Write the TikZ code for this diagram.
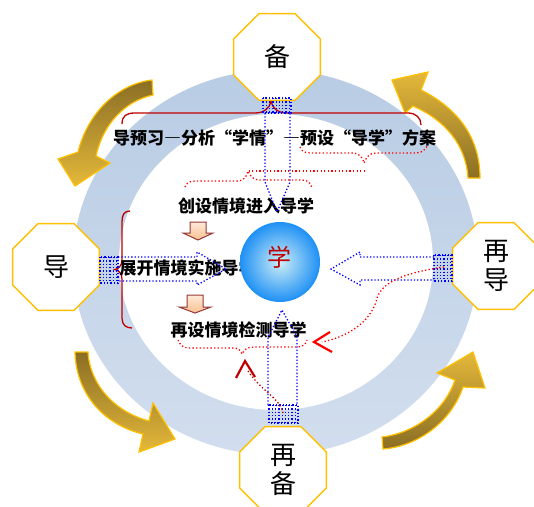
\documentclass[tikz,border=0pt]{standalone}
\usepackage{fontspec}
\newfontfamily\cjk{Noto Sans CJK SC}
\newfontfamily\cjkfw{Noto Sans CJK SC}[CharacterWidth=Full]
\usetikzlibrary{shapes.geometric}
\definecolor{ringA}{RGB}{184,204,228}
\definecolor{ringB}{RGB}{210,222,238}
\definecolor{goldD}{RGB}{138,110,36}
\definecolor{goldL}{RGB}{228,184,58}
\definecolor{goldE}{RGB}{255,192,0}
\definecolor{darkred}{RGB}{192,0,0}
\definecolor{ballin}{RGB}{205,238,246}
\definecolor{ballout}{RGB}{30,144,245}
\definecolor{peach}{RGB}{250,192,144}
\definecolor{peachL}{RGB}{253,233,217}
\definecolor{arrbrown}{RGB}{149,55,53}
\newcommand\myhatch[4]{%
  \draw[bluedot] (#1,#2) rectangle (#3,#4);
  \begin{scope}
    \clip (#1,#2) rectangle (#3,#4);
    \foreach \xx in {0,3.3,...,33} \draw[bluedot] ({#1+\xx},#2) -- ({#1+\xx},#4);
  \end{scope}}
\begin{document}
\begin{tikzpicture}[x=1pt,y=-1pt,
  octa/.style={regular polygon, regular polygon sides=8, minimum size=94pt, inner sep=0pt,
    draw=goldE, line width=1.5pt, fill=white, font=\cjk\fontsize{26}{28.5}\selectfont, align=center},
  bluedot/.style={draw=blue, line width=1.3pt, dash pattern=on 1.3pt off 2pt},
  reddot/.style={draw=red, line width=1.3pt, dash pattern=on 1.3pt off 2.3pt},
  txt/.style={font=\cjk\bfseries\fontsize{17}{18}\selectfont, inner sep=0pt},
  goldarrow/.style={draw=goldE, line width=1.2pt},
  brace/.style={draw=darkred, line width=1.3pt},
  blockarrow/.style={draw=arrbrown, line width=1pt, top color=peachL, bottom color=peach},
]
\useasboundingbox (0,0) rectangle (534,506);
% ring
\shade[top color=ringA, bottom color=ringB] (275.5,262.5) ellipse [x radius=202.5, y radius=192.5];
\fill[white] (276,262) ellipse [x radius=157, y radius=148];
% golden curved arrows
\shadedraw[goldarrow, top color=goldD, bottom color=goldL]
  (152,80) .. controls (118,84) and (88,112) .. (78,152) -- (58,159) -- (75,186) -- (110,163) -- (96,156)
  .. controls (103,124) and (125,101) .. (153,95) -- cycle;
\shadedraw[goldarrow, bottom color=goldD, top color=goldL]
  (480,178) .. controls (480,135) and (455,107) .. (421,90) -- (428,72) -- (392,80) -- (405,113) -- (413,106)
  .. controls (445,120) and (466,145) .. (468,178) -- cycle;
\shadedraw[goldarrow, top color=goldD, bottom color=goldL]
  (75,352) .. controls (76,395) and (105,425) .. (143,434) -- (139,452) -- (175,439) -- (153,403) -- (149,421)
  .. controls (115,412) and (90,385) .. (88,352) -- cycle;
\shadedraw[goldarrow, bottom color=goldD, top color=goldL]
  (383,449) .. controls (420,446) and (452,420) .. (463,387) -- (485,388) -- (473,352) -- (437,373) -- (455,380)
  .. controls (445,410) and (415,433) .. (382,437) -- cycle;
% dark red braces
\draw[brace] (122,124) .. controls (122,116) and (126,113) .. (135,113) -- (255,113)
  .. controls (264,113) and (270,108) .. (271,101) .. controls (272,108) and (278,113) .. (287,113)
  -- (408,113) .. controls (416,113) and (421,118) .. (421,125);
\draw[brace] (130,211) .. controls (124,211) and (122,215) .. (122,222) -- (122,260)
  .. controls (122,266) and (118,269) .. (115,269.5) .. controls (118,270) and (122,273) .. (122,279)
  -- (122,318) .. controls (122,325) and (126,328) .. (132,328);
% texts
\node[txt, font=\cjkfw\bfseries\fontsize{17}{18}\selectfont] (t0) at (274.5,138) {导预习—分析“学情”—预设“导学”方案};
\node[txt] (t1) at (246,206) {创设情境进入导学};
\node[txt] (t2) at (187.5,268) {展开情境实施导学};
\node[txt] (t3) at (238.5,330) {再设情境检测导学};
% block arrows
\draw[blockarrow] (190,222) -- (206,222) -- (206,233) -- (213,233) -- (198,240) -- (183,233) -- (190,233) -- cycle;
\draw[blockarrow] (187,295) -- (203,295) -- (203,307) -- (211,307) -- (195,313) -- (179,307) -- (187,307) -- cycle;
% centre ball
\node[circle, minimum size=80pt, inner sep=0pt, inner color=ballin, outer color=ballout] (ball) at (280,262) {};
\node[font=\cjk\fontsize{24}{24}\selectfont, text=darkred, inner sep=0pt] (xue) at (279,257) {学};
% octagons
\node[octa] (bei) at (277,57) {备};
\node[octa] (dao) at (56,267) {导};
\node[octa] (zdao) at (496,266) {再\\导};
\node[octa] (zbei) at (283,470) {再\\备};
% blue dotted arrows
\draw[bluedot] (265,113) -- (265,182) -- (277,212) -- (290,182) -- (290,113);
\myhatch{263}{98}{291}{113}
\draw[bluedot] (118,257) -- (197,257) -- (197,252) -- (226,269) -- (197,285) -- (197,281) -- (118,281);
\myhatch{100}{257}{118}{283}
\draw[bluedot] (434,257) -- (360,257) -- (360,252) -- (331,269) -- (360,285) -- (360,280) -- (434,280);
\myhatch{434}{255}{452}{281}
\draw[bluedot] (268,405) -- (268,337) -- (282,310) -- (297,337) -- (297,405);
\myhatch{269}{405}{298}{423}
% red dotted braces and paths
\draw[reddot] (300,147) .. controls (302,152) and (305,153) .. (312,153) -- (352,153)
  .. controls (360,153) and (363,158) .. (364,163) .. controls (366,158) and (369,153) .. (376,153)
  -- (416,153) .. controls (422,153) and (425,150) .. (427,146);
\draw[reddot] (365,171) -- (248,171);
\draw[reddot] (185,187) .. controls (187,182) and (190,181) .. (197,181) -- (238,181)
  .. controls (244,181) and (247,176) .. (248,171) .. controls (250,176) and (253,180) .. (260,180)
  -- (302,180) .. controls (308,180) and (311,183) .. (312,188);
\draw[reddot] (178,340) .. controls (180,345) and (183,348) .. (190,348) -- (232,348)
  .. controls (238,348) and (241,350) .. (242,354) .. controls (244,350) and (247,347) .. (254,347)
  -- (297,347) .. controls (303,347) and (306,344) .. (307,340);
\draw[reddot, draw=darkred] (283,413) .. controls (280,398) and (262,392) .. (248,371);
\draw[reddot] (444,267) .. controls (410,272) and (383,280) .. (377,298)
  .. controls (373,318) and (352,336) .. (322,342);
% open arrowheads
\draw[darkred, line width=2.2pt] (236,378) -- (245,361) -- (255,377);
\draw[red, line width=2.2pt] (330,332) -- (314,342) -- (332,352);
\end{tikzpicture}
\end{document}
